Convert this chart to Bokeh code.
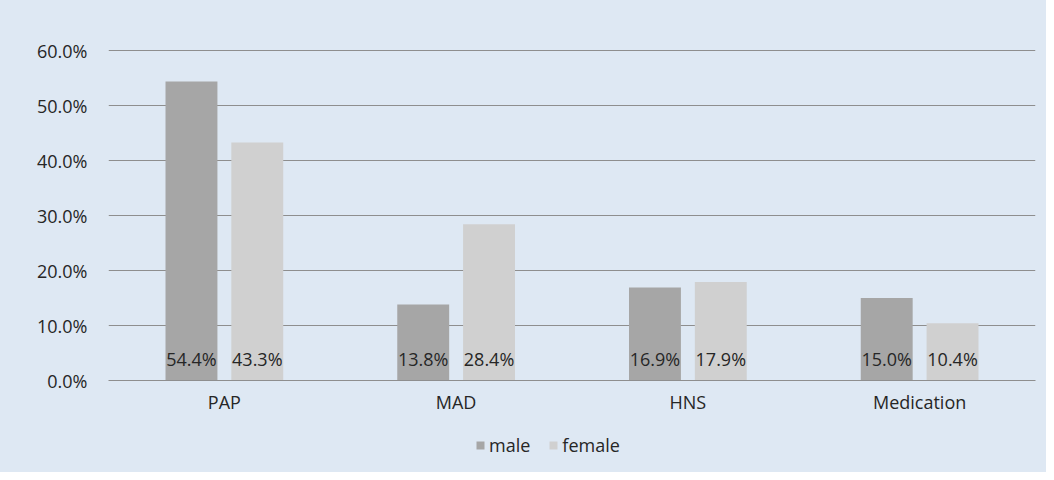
from bokeh.plotting import figure
from bokeh.layouts import column
from bokeh.models import ColumnDataSource, FactorRange, Legend, LegendItem, FixedTicker, CustomJSTickFormatter
from bokeh.transform import dodge
from bokeh.core.properties import value
from bokeh.embed import file_html
from bokeh.resources import INLINE

categories = ["PAP", "MAD", "HNS", "Medication"]
male = [54.4, 13.8, 16.9, 15.0]
female = [43.3, 28.4, 17.9, 10.4]
y_ticks = [0, 10, 20, 30, 40, 50, 60]
series_names = ["male", "female"]

FONT = "Open Sans"
FS = "18px"
BG = "#dee8f3"
GRID = "#8e8e8e"
TXT = "#262626"
C_MALE = "#a6a6a6"
C_FEMALE = "#d0d0d0"

src = ColumnDataSource(dict(
    cat=categories, male=male, female=female,
    male_lbl=[f"{v:.1f}%" for v in male],
    female_lbl=[f"{v:.1f}%" for v in female],
    zero=[0] * len(categories),
))

p = figure(width=1046, height=428, x_range=FactorRange(*categories, range_padding=0),
           y_range=(0, 60.2), output_backend="svg", toolbar_location=None,
           min_border_left=108, min_border_right=11, min_border_top=49, min_border_bottom=48)
p.background_fill_color = BG
p.border_fill_color = BG
p.outline_line_color = None

p.vbar(x=dodge("cat", -0.142, range=p.x_range), top="male", width=0.224, source=src,
       fill_color=C_MALE, line_color=None)
p.vbar(x=dodge("cat", 0.142, range=p.x_range), top="female", width=0.224, source=src,
       fill_color=C_FEMALE, line_color=None)

for col, off in (("male_lbl", -0.142), ("female_lbl", 0.142)):
    p.text(x=dodge("cat", off, range=p.x_range), y="zero", text=col, source=src,
           text_font=value(FONT), text_font_size=FS, text_color=TXT,
           text_align="center", text_baseline="alphabetic", y_offset=-22)

p.xgrid.grid_line_color = None
p.ygrid.grid_line_color = GRID
p.ygrid.grid_line_width = 1
p.ygrid.ticker = FixedTicker(ticks=y_ticks)

p.yaxis.ticker = FixedTicker(ticks=y_ticks)
p.yaxis.formatter = CustomJSTickFormatter(code="return tick.toFixed(1) + '%';")
p.yaxis.axis_line_color = None
p.yaxis.major_tick_line_color = None
p.yaxis.minor_tick_line_color = None
p.yaxis.major_label_standoff = 15

p.xaxis.axis_line_color = GRID
p.xaxis.major_tick_line_color = None
p.xaxis.minor_tick_line_color = None
p.xaxis.major_label_standoff = 3

for ax in (p.xaxis, p.yaxis):
    ax.major_label_text_font = FONT
    ax.major_label_text_font_size = FS
    ax.major_label_text_color = TXT

# legend strip below the chart (legend proxies are zero-height bars)
lg = figure(width=1046, height=44, x_range=FactorRange(*categories), y_range=(0, 1),
            output_backend="svg", toolbar_location=None,
            min_border=0, min_border_left=0, min_border_right=0, min_border_top=0, min_border_bottom=0)
lg.background_fill_color = None
lg.border_fill_color = BG
lg.outline_line_color = None
lg.axis.visible = False
lg.grid.grid_line_color = None
lm = lg.vbar(x="cat", top="zero", bottom="zero", width=0.1, source=src, fill_color=C_MALE, line_color=None)
lf = lg.vbar(x="cat", top="zero", bottom="zero", width=0.1, source=src, fill_color=C_FEMALE, line_color=None)

legend = Legend(items=[LegendItem(label=series_names[0], renderers=[lm]),
                       LegendItem(label=series_names[1], renderers=[lf])],
                location=(367, 15), orientation="horizontal",
                glyph_width=10, glyph_height=10, label_height=20, label_standoff=4, spacing=18,
                padding=0, margin=0, border_line_color=None, background_fill_alpha=0,
                label_text_font=FONT, label_text_font_size=FS, label_text_color=TXT)
lg.add_layout(legend, "center")

layout = column(p, lg, spacing=0, styles={"background-color": BG})
open("out.html", "w").write(file_html(layout, INLINE))
